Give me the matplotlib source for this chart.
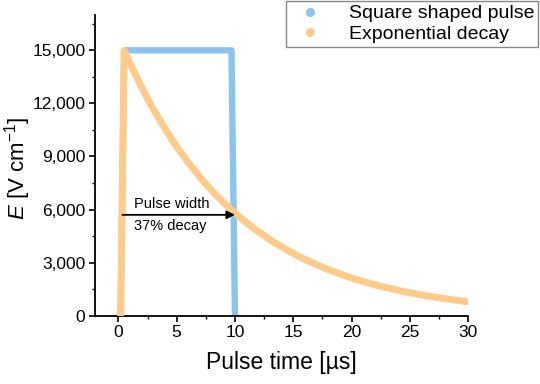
import matplotlib
matplotlib.use('Agg')
import matplotlib.pyplot as plt
from matplotlib.lines import Line2D
from matplotlib.ticker import MultipleLocator, StrMethodFormatter

plt.rcParams['font.family'] = ['Liberation Sans', 'DejaVu Sans']
plt.rcParams['mathtext.fontset'] = 'custom'
plt.rcParams['mathtext.rm'] = 'Liberation Sans'
plt.rcParams['mathtext.it'] = 'Liberation Sans:italic'

# square shaped pulse (corners)
square_t = [0.2, 0.5, 9.7, 10.0]
square_E = [0, 15000, 15000, 0]

# exponential decay, values read at each microsecond
exp_t = [0.2, 0.5, 1, 2, 3, 4, 5, 6, 7, 8, 9, 10, 11, 12, 13, 14, 15,
         16, 17, 18, 19, 20, 21, 22, 23, 24, 25, 26, 27, 28, 29, 30]
exp_E = [0, 15000, 14270, 12910, 11680, 10570, 9560, 8650, 7830, 7080,
         6410, 5800, 5250, 4750, 4300, 3890, 3520, 3180, 2880, 2610, 2360,
         2130, 1930, 1750, 1580, 1430, 1290, 1170, 1060, 960, 870, 780]

blue = '#8CC3EF'
orange = '#FFCB8A'

fig = plt.figure(figsize=(5.4, 3.84), dpi=100)
ax = fig.add_axes([0.176, 0.178, 0.691, 0.783])

ax.plot(square_t, square_E, color=blue, lw=4.6, solid_capstyle='round',
        solid_joinstyle='round', zorder=2)
ax.plot(exp_t, exp_E, color=orange, lw=5, solid_capstyle='round',
        solid_joinstyle='round', zorder=3)

# pulse width arrow
ax.annotate('', xy=(10.0, 5700), xytext=(0.35, 5700),
            arrowprops=dict(arrowstyle='-|>', color='black', lw=1.3,
                            mutation_scale=12, shrinkA=0, shrinkB=0),
            zorder=4)
ax.text(1.3, 5900, 'Pulse width', fontsize=10.5, ha='left', va='bottom')
ax.text(1.3, 5450, '37% decay', fontsize=10.5, ha='left', va='top')

ax.set_xlim(-2, 30)
ax.set_ylim(0, 17000)
ax.xaxis.set_major_locator(MultipleLocator(5))
ax.xaxis.set_minor_locator(MultipleLocator(2.5))
ax.yaxis.set_major_locator(MultipleLocator(3000))
ax.yaxis.set_minor_locator(MultipleLocator(1500))
ax.yaxis.set_major_formatter(StrMethodFormatter('{x:,.0f}'))
ax.set_xticks([0, 5, 10, 15, 20, 25, 30])

for s in ['top', 'right']:
    ax.spines[s].set_visible(False)
for s in ['left', 'bottom']:
    ax.spines[s].set_linewidth(1.3)
ax.tick_params(which='major', direction='out', length=4.5, width=1.2,
               labelsize=12.5, pad=2.5)
ax.tick_params(which='minor', direction='out', length=2.5, width=1.0)

ax.set_xlabel('Pulse time [µs]', fontsize=16.5, labelpad=8)
ax.set_ylabel(r'$E$ [V cm$^{-1}$]', fontsize=16)
ax.yaxis.set_label_coords(-0.165, 0.49)

handles = [Line2D([], [], ls='', marker='o', color=blue, markersize=5.5),
           Line2D([], [], ls='', marker='o', color=orange, markersize=5.5)]
leg = fig.legend(handles, ['Square shaped pulse', 'Exponential decay'],
                 loc='upper right', bbox_to_anchor=(538 / 540, 383 / 384),
                 fontsize=14, frameon=True, fancybox=False, framealpha=1,
                 edgecolor='#888888', borderpad=0.2, handletextpad=1.0,
                 labelspacing=0.15, handlelength=2.0, borderaxespad=0)
leg.get_frame().set_linewidth(1.0)

fig.savefig('out.png', dpi=100)
